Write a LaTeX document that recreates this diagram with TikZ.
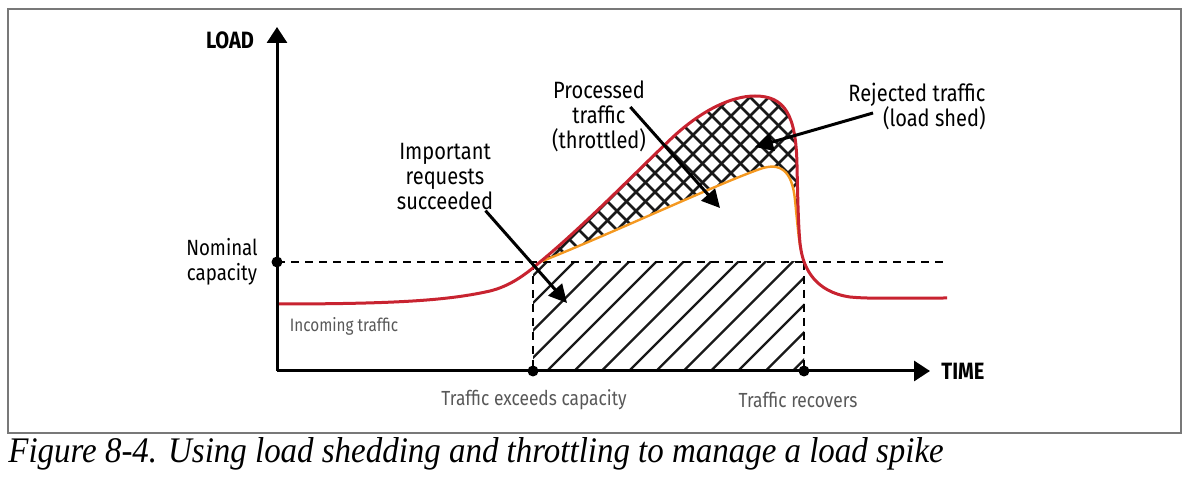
\documentclass[tikz,border=0pt]{standalone}
\usepackage{fontspec}
\setmainfont{Fira Sans}[FakeStretch=0.85]
\newfontfamily\capfont{Liberation Serif}[FakeStretch=0.915]
\usetikzlibrary{arrows.meta}
\definecolor{curvered}{RGB}{200,35,48}
\definecolor{curveorange}{RGB}{244,152,32}
\definecolor{labelgray}{RGB}{88,88,88}
\definecolor{framegray}{RGB}{120,120,120}

\begin{document}
\begin{tikzpicture}[x=0.5pt,y=-0.5pt,
    axis/.style={line width=1.5pt,-{Triangle[length=8pt,width=10pt]}},
    ptr/.style={line width=1.5pt,-{Triangle[length=9pt,width=9pt]}},
    capline/.style={line width=0.7pt,dash pattern=on 4pt off 3pt},
    hatch/.style={line width=1.15pt,black!90},
    lbl/.style={font=\fontsize{11.8}{12.5}\selectfont,align=center,inner sep=0pt},
    note/.style={font=\fontsize{10.2}{12}\selectfont,text=labelgray,inner sep=0pt},
    dot/.style={circle,fill=black,inner sep=0pt,minimum size=5.5pt}]
    \useasboundingbox (0,0) rectangle (1194,496);
    \draw[framegray,line width=0.75pt] (8,9) rectangle (1181,433);

    \coordinate (O) at (277,371);
    \coordinate (ytop) at (277,27);
    \coordinate (xend) at (930,371);
    \coordinate (capL) at (277,262);
    \coordinate (capR) at (947,262);
    \coordinate (cross) at (540,262);
    \coordinate (peak) at (755,96);
    \coordinate (merge) at (801,250);

    % throttled traffic: single hatch
    \begin{scope}
        \clip (533,262) rectangle (804,371);
        \foreach \k in {-5,...,10}
            \draw[hatch] ({547+27.3*\k-20},391) -- ++(160,-160);
    \end{scope}
    % rejected traffic: cross hatch
    \begin{scope}
        \clip (cross) .. controls (585,225) and (640,168) .. (673,137)
            .. controls (700,112) and (730,96) .. (peak)
            .. controls (785,96) and (796,115) .. (797,165)
            .. controls (798,215) and (799,240) .. (merge)
            .. controls (799,242) and (798,230) .. (795,200)
            .. controls (792,170) and (780,162) .. (760,169)
            .. controls (715,185) and (615,232) .. (cross) -- cycle;
        \foreach \k in {0,...,15}
            \draw[hatch,line width=1.3pt] ({528+19*\k},262) -- ++(200,-200);
        \foreach \k in {0,...,23}
            \draw[hatch,line width=1.3pt] ({535+19*\k},262) -- ++(-260,-260);
    \end{scope}

    \draw[capline] (capL) -- (capR);
    \draw[capline] (533,262) -- (533,371);
    \draw[capline] (804,262) -- (804,371);

    \draw[curveorange,line width=1.2pt] (cross)
        .. controls (615,232) and (715,185) .. (760,169)
        .. controls (780,162) and (792,170) .. (795,200)
        .. controls (798,230) and (799,242) .. (merge);
    \draw[curvered,line width=1.5pt] (277,304)
        .. controls (400,304) and (450,300) .. (490,291)
        .. controls (510,286) and (525,275) .. (cross)
        .. controls (585,225) and (640,168) .. (673,137)
        .. controls (700,112) and (730,96) .. (peak)
        .. controls (785,96) and (796,115) .. (797,165)
        .. controls (798,215) and (799,240) .. (merge)
        .. controls (804,268) and (815,292) .. (850,297)
        .. controls (870,299) and (900,298) .. (947,298);

    \draw[axis] (O) -- (ytop);
    \draw[axis] (O) -- (xend);

    \node[dot] (capdot) at (capL) {};
    \node[dot] (exdot) at (533,371) {};
    \node[dot] (recdot) at (804,371) {};

    \node[lbl,font=\fontsize{11.8}{12.5}\selectfont\bfseries] (load) at (230,40) {LOAD};
    \node[lbl,font=\fontsize{11.8}{12.5}\selectfont\bfseries] (time) at (963,371) {TIME};
    \node[lbl,font=\fontsize{11}{12.5}\selectfont] (nominal) at (222,262) {Nominal\\capacity};
    \node[note,font=\fontsize{9}{11}\selectfont] (incoming) at (344,326) {Incoming traffic};
    \node[note] (exceeds) at (534,400) {Traffic exceeds capacity};
    \node[note] (recovers) at (798,400) {Traffic recovers};
    \node[lbl] (imp) at (445,177) {Important\\requests\\succeeded};
    \node[lbl] (proc) at (599,116) {Processed\\traffic\\(throttled)};
    \node[lbl,align=right] (rej) at (917,107) {Rejected traffic\\(load shed)};

    \coordinate (impTip) at (567,303);
    \coordinate (procTip) at (720,208);
    \coordinate (rejTip) at (755,147);
    \draw[ptr] ([shift={(-8,0)}]imp.south east) -- (impTip);
    \draw[ptr] ([shift={(-16,-9)}]proc.east) -- (procTip);
    \draw[ptr] ([shift={(25,6)}]rej.west) -- (rejTip);

    \node[anchor=base west,inner sep=0pt,font=\capfont\itshape\fontsize{18}{20}\selectfont] (caption) at (8,463)
        {Figure 8-4. Using load shedding and throttling to manage a load spike};
\end{tikzpicture}
\end{document}
